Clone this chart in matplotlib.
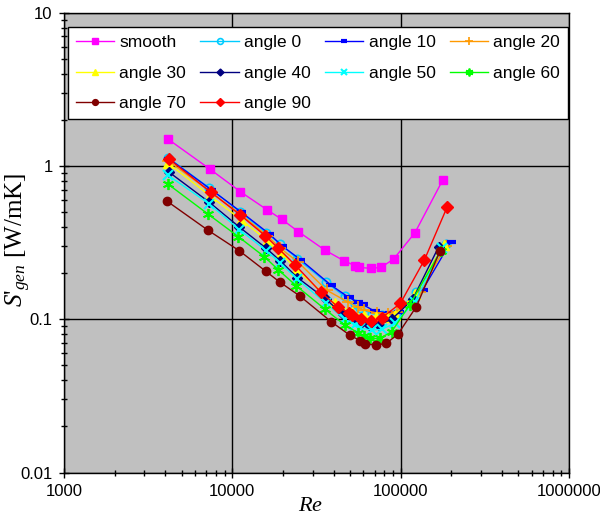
import matplotlib
matplotlib.use('Agg')
import matplotlib.pyplot as plt
import matplotlib.ticker as mticker

plt.rcParams['font.family'] = ['Liberation Sans', 'DejaVu Sans']
plt.rcParams['mathtext.fontset'] = 'custom'
plt.rcParams['mathtext.rm'] = 'Liberation Serif'
plt.rcParams['mathtext.it'] = 'Liberation Serif:italic'

# Re and S'gen values
re_smooth = [4140, 7400, 11160, 16000, 19600, 24700, 35400, 46000, 53500, 56500, 66600, 76400, 90800, 121600, 177800]
s_smooth = [1.50, 0.95, 0.68, 0.52, 0.45, 0.373, 0.283, 0.241, 0.224, 0.218, 0.215, 0.218, 0.247, 0.367, 0.81]

re_a0 = [4160, 7300, 11160, 15940, 19310, 24370, 35780, 46420, 53240, 57020, 67200, 77080, 93370, 122800, 185300]
s_a0 = [1.13, 0.72, 0.50, 0.365, 0.31, 0.248, 0.176, 0.141, 0.125, 0.118, 0.109, 0.106, 0.109, 0.15, 0.31]

re_a10 = [4220, 7500, 11310, 16610, 19840, 25400, 38310, 49030, 55460, 59410, 70010, 86040, 97300, 135200, 198500]
s_a10 = [1.11, 0.70, 0.50, 0.36, 0.30, 0.245, 0.168, 0.139, 0.130, 0.125, 0.113, 0.110, 0.112, 0.156, 0.32]

re_a20 = [4160, 7400, 11310, 16160, 19310, 24710, 36270, 48360, 55460, 60240, 71960, 83670, 94670, 129800, 185300]
s_a20 = [1.08, 0.68, 0.48, 0.35, 0.29, 0.235, 0.155, 0.130, 0.120, 0.115, 0.110, 0.108, 0.112, 0.15, 0.30]

re_a30 = [4160, 7400, 11310, 16160, 19570, 24040, 33880, 40470, 51080, 60240, 70980, 82540, 92100, 121200, 180300]
s_a30 = [1.04, 0.637, 0.445, 0.326, 0.27, 0.21, 0.152, 0.127, 0.112, 0.105, 0.104, 0.104, 0.106, 0.146, 0.305]

re_a40 = [4220, 7300, 11000, 15940, 19310, 24370, 35780, 45160, 52510, 58610, 64490, 73960, 88430, 117900, 168400]
s_a40 = [0.91, 0.58, 0.40, 0.29, 0.24, 0.187, 0.136, 0.108, 0.100, 0.096, 0.092, 0.092, 0.100, 0.135, 0.298]

re_a50 = [4160, 7300, 11000, 15940, 19310, 24370, 35780, 46420, 53240, 57020, 67200, 77080, 92100, 121200, 175400]
s_a50 = [0.87, 0.565, 0.385, 0.28, 0.233, 0.182, 0.128, 0.100, 0.092, 0.088, 0.085, 0.086, 0.094, 0.13, 0.29]

re_a60 = [4160, 7200, 10860, 15500, 18780, 24040, 35290, 46420, 55460, 60240, 65380, 74990, 88430, 113100, 173000]
s_a60 = [0.76, 0.484, 0.346, 0.256, 0.21, 0.165, 0.117, 0.092, 0.082, 0.078, 0.075, 0.075, 0.083, 0.124, 0.28]

re_a70 = [4090, 7170, 11000, 15780, 19120, 25150, 38680, 49700, 57560, 61050, 71670, 82220, 96370, 124000, 171400]
s_a70 = [0.59, 0.381, 0.28, 0.206, 0.175, 0.142, 0.0964, 0.079, 0.0725, 0.069, 0.068, 0.0697, 0.080, 0.121, 0.28]

re_a90 = [4220, 7470, 11160, 15720, 18600, 23610, 33410, 42580, 49230, 51300, 58360, 66920, 77080, 99590, 138400, 188600]
s_a90 = [1.106, 0.673, 0.479, 0.35, 0.293, 0.226, 0.151, 0.120, 0.110, 0.106, 0.100, 0.0975, 0.102, 0.127, 0.244, 0.538]

x_ticks = [1000, 10000, 100000, 1000000]
y_ticks = [0.01, 0.1, 1, 10]

fig = plt.figure(figsize=(6, 5.17), dpi=100)
ax = fig.add_axes([0.1067, 0.0859, 0.8416, 0.8895])
ax.set_facecolor('#C0C0C0')

lw = 1.0
h = {}
h['smooth'] = ax.plot(re_smooth, s_smooth, color='#FF00FF', lw=lw, marker='s', ms=6, mfc='#FF00FF', mec='#FF00FF', label='smooth')[0]
h['a0'] = ax.plot(re_a0, s_a0, color='#00CCFF', lw=lw, marker='o', ms=6, mfc='none', mec='#00CCFF', mew=1.2, label='angle 0')[0]
h['a10'] = ax.plot(re_a10, s_a10, color='#0000FF', lw=lw, marker='_', ms=7, mew=3, mec='#0000FF', label='angle 10')[0]
h['a20'] = ax.plot(re_a20, s_a20, color='#FF9900', lw=lw, marker='+', ms=9, mew=1.2, mec='#FF9900', label='angle 20')[0]
h['a30'] = ax.plot(re_a30, s_a30, color='#FFFF00', lw=lw, marker='^', ms=7, mfc='#FFFF00', mec='#FFFF00', label='angle 30')[0]
h['a40'] = ax.plot(re_a40, s_a40, color='#000080', lw=lw, marker='D', ms=5, mfc='#000080', mec='#000080', label='angle 40')[0]
h['a50'] = ax.plot(re_a50, s_a50, color='#00FFFF', lw=lw, marker='x', ms=7, mew=1.5, mec='#00FFFF', label='angle 50')[0]
h['a60'] = ax.plot(re_a60, s_a60, color='#00FF00', lw=lw, marker=(6, 2, 0), ms=8, mew=1.3, mec='#00FF00', label='angle 60')[0]
h['a70'] = ax.plot(re_a70, s_a70, color='#800000', lw=lw, marker='o', ms=6, mfc='#800000', mec='#800000', label='angle 70')[0]
h['a90'] = ax.plot(re_a90, s_a90, color='#FF0000', lw=lw, marker='D', ms=6, mfc='#FF0000', mec='#FF0000', label='angle 90')[0]

ax.set_xscale('log')
ax.set_yscale('log')
ax.set_xlim(x_ticks[0], x_ticks[-1])
ax.set_ylim(y_ticks[0], y_ticks[-1])
ax.xaxis.set_major_locator(mticker.FixedLocator(x_ticks))
ax.yaxis.set_major_locator(mticker.FixedLocator(y_ticks))
ax.xaxis.set_minor_locator(mticker.LogLocator(base=10, subs=range(2, 10), numticks=20))
ax.yaxis.set_minor_locator(mticker.LogLocator(base=10, subs=range(2, 10), numticks=20))
ax.xaxis.set_major_formatter(mticker.FuncFormatter(lambda v, p: f'{v:.0f}'))
ax.yaxis.set_major_formatter(mticker.FuncFormatter(lambda v, p: f'{v:g}'))
ax.xaxis.set_minor_formatter(mticker.NullFormatter())
ax.yaxis.set_minor_formatter(mticker.NullFormatter())

ax.tick_params(which='major', direction='inout', length=6.5, width=1, labelsize=12, pad=5)
ax.tick_params(which='minor', direction='inout', length=4.3, width=1)
ax.grid(True, which='major', color='black', lw=1)
for sp in ax.spines.values():
    sp.set_color('black')
    sp.set_linewidth(1)

ax.set_xlabel('$Re$', fontsize=16)
ax.xaxis.set_label_coords(0.488, -0.048)
ax.set_ylabel(r"$S\text{'}_{gen}$ [W/mK]", fontsize=18, family='Liberation Serif')
ax.yaxis.set_label_coords(-0.062, 0.506)

# row-major order like the original legend (matplotlib fills columns first)
order = ['smooth', 'a30', 'a70', 'a0', 'a40', 'a90', 'a10', 'a50', 'a20', 'a60']
handles = [h[k] for k in order]
leg = ax.legend(handles, [hd.get_label() for hd in handles],
                loc='upper left', bbox_to_anchor=(0.008, 0.773, 0.99, 0.196), mode='expand',
                ncol=4, fontsize=12.5, frameon=True, fancybox=False, framealpha=1,
                edgecolor='black', borderaxespad=0, handlelength=2.2, handletextpad=0.3,
                labelspacing=0.9, borderpad=0.45, markerscale=0.7)
leg.get_frame().set_linewidth(1)

fig.savefig('out.png', dpi=100)
